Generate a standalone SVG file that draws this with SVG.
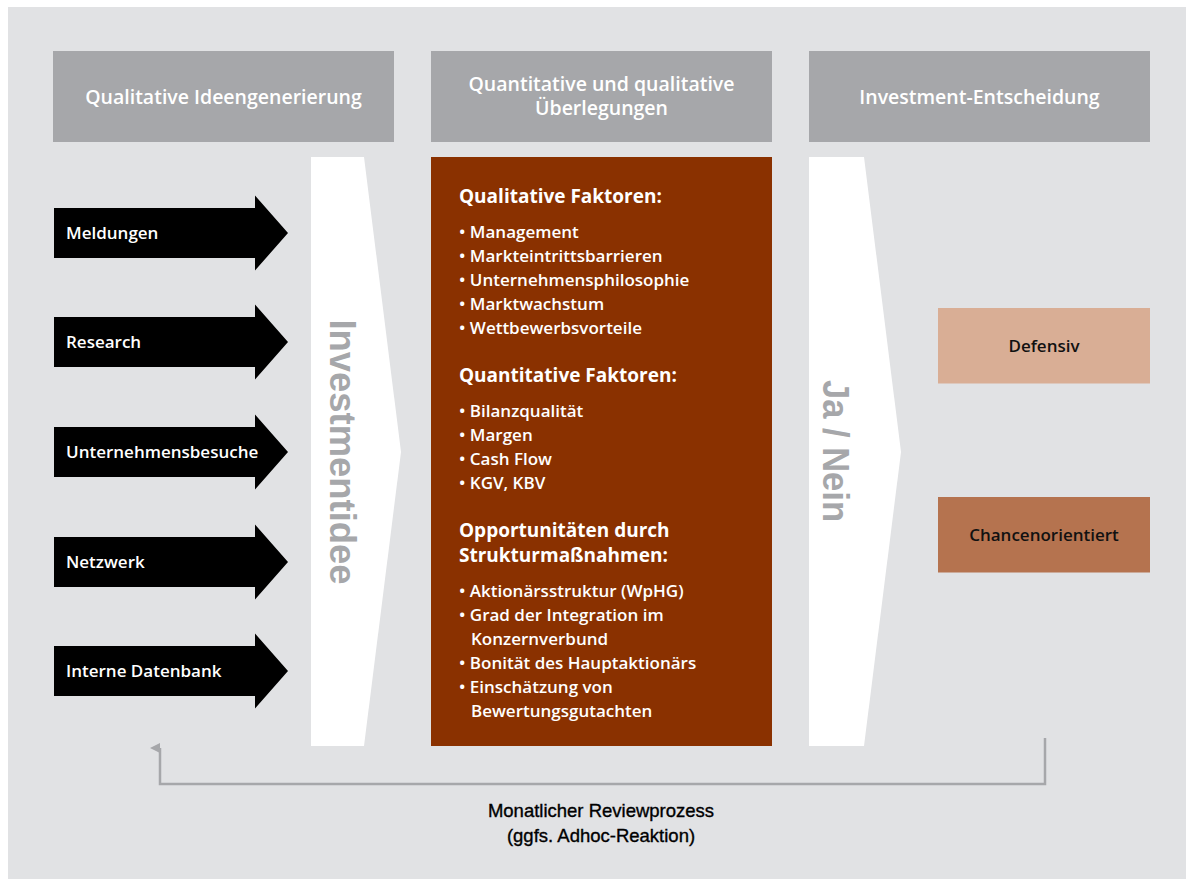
<svg xmlns="http://www.w3.org/2000/svg" width="1192" height="885" viewBox="0 0 1192 885">
<defs>
<style>
.hdr{fill:#a6a7aa}
.hdrt{font-family:"Open Sans","Liberation Sans",sans-serif;font-weight:600;font-size:19.5px;fill:#ffffff;text-anchor:middle}
.arrow{fill:#000000}
.arrt{font-family:"Open Sans","Liberation Sans",sans-serif;font-weight:600;font-size:17px;fill:#ffffff}
.pent{fill:#ffffff}
.vert{font-family:"Liberation Sans",Arial,sans-serif;font-weight:700;font-size:37px;fill:#a6a7aa}
.h{font-family:"Open Sans","Liberation Sans",sans-serif;font-weight:700;font-size:19px;fill:#ffffff}
.b{font-family:"Open Sans","Liberation Sans",sans-serif;font-weight:600;font-size:17px;fill:#ffffff}
.res{font-family:"Open Sans","Liberation Sans",sans-serif;font-weight:600;font-size:17px;fill:#111111;text-anchor:middle}
.foot{font-family:"Liberation Sans",Arial,sans-serif;font-size:18.5px;fill:#000000;stroke:#000000;stroke-width:0.35;text-anchor:middle}
.conn{fill:none;stroke:#a6a7aa;stroke-width:2.5}
</style>
<marker id="ah" viewBox="0 0 10 10" refX="5" refY="10" markerWidth="10" markerHeight="11" markerUnits="userSpaceOnUse" orient="auto-start-reverse">
<path d="M0,10 L5,0 L10,10 Z" fill="#a6a7aa"/>
</marker>
</defs>
<rect x="0" y="0" width="1192" height="885" fill="#ffffff"/>
<rect x="8" y="7" width="1178" height="872" fill="#e1e2e4"/>

<g id="header1"><rect class="hdr" x="53" y="51" width="341" height="91"/><text class="hdrt" x="223.5" y="104">Qualitative Ideengenerierung</text></g>
<g id="header2"><rect class="hdr" x="431" y="51" width="341" height="91"/><text class="hdrt" x="601.5" y="91">Quantitative und qualitative</text><text class="hdrt" x="601.5" y="115">Überlegungen</text></g>
<g id="header3"><rect class="hdr" x="809" y="51" width="341" height="91"/><text class="hdrt" x="979.5" y="104">Investment-Entscheidung</text></g>

<g id="src-meldungen"><path class="arrow" d="M54,208 H255 V195.5 L288,233 L255,270.5 V258 H54 Z"/><text class="arrt" x="66" y="239">Meldungen</text></g>
<g id="src-research"><path class="arrow" d="M54,317 H255 V304.5 L288,342 L255,379.5 V367 H54 Z"/><text class="arrt" x="66" y="348">Research</text></g>
<g id="src-besuche"><path class="arrow" d="M54,427 H255 V414.5 L288,452 L255,489.5 V477 H54 Z"/><text class="arrt" x="66" y="458">Unternehmensbesuche</text></g>
<g id="src-netzwerk"><path class="arrow" d="M54,537 H255 V524.5 L288,562 L255,599.5 V587 H54 Z"/><text class="arrt" x="66" y="568">Netzwerk</text></g>
<g id="src-datenbank"><path class="arrow" d="M54,646 H255 V633.5 L288,671 L255,708.5 V696 H54 Z"/><text class="arrt" x="66" y="677">Interne Datenbank</text></g>

<g id="investmentidee"><path class="pent" d="M311,157 H364 L401,452 L364,746 H311 Z"/><text class="vert" transform="translate(330,452) rotate(90)" text-anchor="middle" textLength="265" lengthAdjust="spacingAndGlyphs">Investmentidee</text></g>

<g id="faktoren">
<rect x="431" y="157" width="341" height="589" fill="#8a3100"/>
<text class="h" x="459" y="203">Qualitative Faktoren:</text>
<text class="b" x="459" y="238">• Management</text>
<text class="b" x="459" y="262">• Markteintrittsbarrieren</text>
<text class="b" x="459" y="286">• Unternehmensphilosophie</text>
<text class="b" x="459" y="310">• Marktwachstum</text>
<text class="b" x="459" y="334">• Wettbewerbsvorteile</text>
<text class="h" x="459" y="382">Quantitative Faktoren:</text>
<text class="b" x="459" y="417">• Bilanzqualität</text>
<text class="b" x="459" y="441">• Margen</text>
<text class="b" x="459" y="465">• Cash Flow</text>
<text class="b" x="459" y="489">• KGV, KBV</text>
<text class="h" x="459" y="537">Opportunitäten durch</text>
<text class="h" x="459" y="562">Strukturmaßnahmen:</text>
<text class="b" x="459" y="597">• Aktionärsstruktur (WpHG)</text>
<text class="b" x="459" y="621">• Grad der Integration im</text>
<text class="b" x="471" y="645">Konzernverbund</text>
<text class="b" x="459" y="669">• Bonität des Hauptaktionärs</text>
<text class="b" x="459" y="693">• Einschätzung von</text>
<text class="b" x="471" y="717">Bewertungsgutachten</text>
</g>

<g id="janein"><path class="pent" d="M809,157 H864 L901,452 L864,746 H809 Z"/><text class="vert" transform="translate(823,451) rotate(90)" text-anchor="middle" textLength="142" lengthAdjust="spacingAndGlyphs">Ja / Nein</text></g>

<g id="defensiv"><rect x="938" y="308" width="212" height="75.5" fill="#d9ae95"/><text class="res" x="1044" y="352">Defensiv</text></g>
<g id="chancen"><rect x="938" y="497" width="212" height="75.5" fill="#b5734f"/><text class="res" x="1044" y="541">Chancenorientiert</text></g>

<g id="connectors">
<path class="conn" d="M1045,738 V784 H160 V748" marker-end="url(#ah)"/>
</g>
<g id="review-label">
<text class="foot" x="601" y="817">Monatlicher Reviewprozess</text>
<text class="foot" x="601" y="842">(ggfs. Adhoc-Reaktion)</text>
</g>
</svg>
